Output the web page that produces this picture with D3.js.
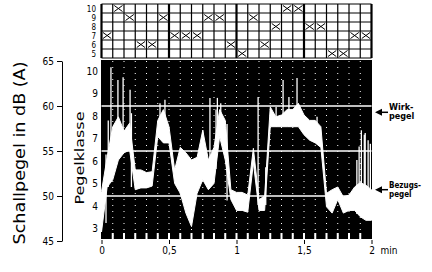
<!DOCTYPE html>
<html>
<head>
<meta charset="utf-8">
<script src="https://cdn.jsdelivr.net/npm/d3@7"></script>
<style>
body { margin: 0; background: #fff; }
svg { display: block; }
text { font-family: "DejaVu Sans Condensed", "DejaVu Sans", sans-serif; fill: #000; }
</style>
</head>
<body>
<div id="chart"></div>
<script>
var svgWidth = 432;
var svgHeight = 272;

// Zeit in Sekunden, Schallpegel in dB(A) (untere / obere Kante des Schriebs)
var times = [0, 2.5, 5, 7.5, 10, 12.5, 15, 17.5, 20, 22.5, 25, 27.5, 30, 32.5, 35, 37.5, 40, 42.5, 45, 47.5,
    50, 52.5, 55, 57.5, 60, 62.5, 65, 67.5, 70, 72.5, 75, 77.5, 80, 82.5, 85, 87.5, 90, 92.5, 95, 97.5,
    100, 102.5, 105, 107.5, 110, 112.5, 115, 117.5, 120];
var levelLow = [46.0, 51.0, 51.8, 54.0, 54.8, 55.1, 50.7, 50.9, 50.9, 51.1, 56.6, 55.9, 55.9, 51.4, 50.3, 48.1, 46.6, 50.3, 51.8, 50.7,
    51.4, 56.6, 54.0, 49.6, 48.4, 48.4, 48.2, 53.7, 48.4, 48.4, 57.7, 57.7, 57.7, 57.7, 57.7, 57.7, 56.8, 56.2, 55.9, 55.4,
    48.8, 48.1, 49.6, 48.1, 48.4, 48.4, 47.7, 47.3, 47.3];
var levelHigh = [50.5, 54.3, 57.7, 58.8, 57.2, 58.1, 52.9, 52.9, 52.6, 52.7, 58.4, 59.6, 57.7, 52.9, 55.4, 54.8, 54.0, 54.3, 57.3, 54.0,
    55.4, 59.6, 58.4, 50.7, 50.4, 50.4, 50.1, 55.3, 49.6, 50.0, 59.9, 58.8, 59.0, 59.6, 59.6, 60.3, 59.0, 58.4, 58.4, 57.7,
    50.3, 50.7, 51.0, 49.9, 50.1, 51.0, 51.5, 51.2, 50.7];

// einzelne Spitzen
var spikeTimes = [2, 3, 4.2, 7.3, 9.6, 12.7, 13.3, 26, 28.2, 45, 48.2, 50.9, 51.5, 53, 55.8, 69.6, 73, 77.6, 80.7, 83.3, 86.9,
    95.8, 113.5, 114.5, 115.5, 116.8, 117.2, 118.5, 119.5];
var spikeLow = [47, 51, 55, 56, 56, 56, 51, 57, 57, 52, 52, 53, 55, 57, 49.5, 49, 49, 57.7, 58, 57.7, 58,
    56, 48, 48, 48, 48, 48, 48, 48];
var spikeHigh = [54.6, 58.4, 64.3, 62.9, 63.2, 61.8, 59.2, 60.3, 60.7, 57.3, 60.9, 59.6, 60.9, 60.3, 58, 61, 53.2, 59.9, 62.9, 61, 63.1,
    58.8, 54, 55.5, 57.3, 56.8, 57, 56.2, 55.8];

// Pegelklasse je 5-s-Intervall
var classPerInterval = [7, 10, 9, 6, 6, 9, 7, 7, 7, 9, 9, 6, 5, 9, 6, 8, 10, 10, 8, 8, 5, 5, 7, 7];
var gridClasses = [10, 9, 8, 7, 6, 5];
var classTicks = [3, 4, 5, 6, 7, 8, 9, 10];
var dbTicks = [45, 50, 55, 60, 65];
var minuteTicks = [0, 0.5, 1, 1.5, 2];
var wirkpegel = 59.3;
var bezugspegel = 50.7;

var svg = d3.select("#chart")
    .append("svg")
    .attr("width", svgWidth)
    .attr("height", svgHeight);

var xScale = d3.scaleLinear().domain([0, 120]).range([101.5, 371.5]);
var xMinutes = d3.scaleLinear().domain([0, 2]).range([101.5, 371.5]);
var yScale = d3.scaleLinear().domain([45, 65]).range([241, 61]);
var yClass = d3.scaleLinear().domain([3, 10]).range([228, 71]);
var rowScale = d3.scaleBand().domain(gridClasses).range([4, 58]);

var intervals = d3.range(0, 125, 5);

// ---- Raster oben (Pegelklasse je Intervall)
var topGrid = svg.append("g");
topGrid.selectAll("line.row")
    .data(d3.range(gridClasses.length + 1))
    .enter()
    .append("line")
    .attr("x1", xScale(0))
    .attr("x2", xScale(120))
    .attr("y1", d => 4 + d * rowScale.bandwidth())
    .attr("y2", d => 4 + d * rowScale.bandwidth())
    .attr("stroke", "#000")
    .attr("stroke-width", 1);

topGrid.selectAll("line.col")
    .data(intervals)
    .enter()
    .append("line")
    .attr("x1", d => xScale(d))
    .attr("x2", d => xScale(d))
    .attr("y1", 4)
    .attr("y2", 58)
    .attr("stroke", "#000")
    .attr("stroke-width", d => (d % 30 == 0) ? 2.2 : 1.2);

var crosses = topGrid.selectAll("g.cross")
    .data(classPerInterval)
    .enter()
    .append("g");
crosses.append("line")
    .attr("x1", (d, i) => xScale(i * 5) + 1.5)
    .attr("x2", (d, i) => xScale(i * 5 + 5) - 1.5)
    .attr("y1", d => rowScale(d) + 1.5)
    .attr("y2", d => rowScale(d) + rowScale.bandwidth() - 1.5)
    .attr("stroke", "#000");
crosses.append("line")
    .attr("x1", (d, i) => xScale(i * 5) + 1.5)
    .attr("x2", (d, i) => xScale(i * 5 + 5) - 1.5)
    .attr("y1", d => rowScale(d) + rowScale.bandwidth() - 1.5)
    .attr("y2", d => rowScale(d) + 1.5)
    .attr("stroke", "#000");

topGrid.selectAll("text")
    .data(gridClasses)
    .enter()
    .append("text")
    .attr("x", 96)
    .attr("y", d => rowScale(d) + rowScale.bandwidth() / 2 + 3)
    .attr("text-anchor", "end")
    .style("font-size", "8px")
    .text(d => d);

// ---- schwarzes Schreibfeld
svg.append("rect")
    .attr("x", xScale(0) - 0.5)
    .attr("y", yScale(65) - 1)
    .attr("width", xScale(120) - xScale(0) + 1)
    .attr("height", yScale(45) - yScale(65) - 1)
    .attr("fill", "#000");

svg.selectAll("line.hgrid")
    .data([50, 55, 60])
    .enter()
    .append("line")
    .attr("x1", xScale(0))
    .attr("x2", xScale(120))
    .attr("y1", d => yScale(d))
    .attr("y2", d => yScale(d))
    .attr("stroke", "#fff")
    .attr("stroke-width", 1.5);

svg.selectAll("line.vgrid")
    .data(intervals.slice(1, -1))
    .enter()
    .append("line")
    .attr("x1", d => xScale(d))
    .attr("x2", d => xScale(d))
    .attr("y1", yScale(65))
    .attr("y2", yScale(45) - 2)
    .attr("stroke", "#fff")
    .attr("stroke-width", 1)
    .attr("stroke-dasharray", "1,5");

svg.selectAll("rect.gap")
    .data(intervals.slice(1, -1))
    .enter()
    .append("rect")
    .attr("x", d => xScale(d) - 1)
    .attr("y", yScale(45) - 8)
    .attr("width", 2)
    .attr("height", 6)
    .attr("fill", "#fff");

// ---- Pegelschrieb
var band = times.map((t, i) => ({t: t, lo: levelLow[i], hi: levelHigh[i]}));
var area = d3.area()
    .x(d => xScale(d.t))
    .y0(d => yScale(d.lo))
    .y1(d => yScale(d.hi));
svg.append("path")
    .datum(band)
    .attr("d", area)
    .attr("fill", "#fff")
    .attr("stroke", "#fff")
    .attr("stroke-width", 1);

svg.selectAll("line.spike")
    .data(spikeTimes)
    .enter()
    .append("line")
    .attr("x1", d => xScale(d))
    .attr("x2", d => xScale(d))
    .attr("y1", (d, i) => yScale(spikeLow[i]))
    .attr("y2", (d, i) => yScale(spikeHigh[i]))
    .attr("stroke", "#fff")
    .attr("stroke-width", 1.3);

// ---- Achsen
var leftAxis = svg.append("g")
    .attr("transform", "translate(62,0)")
    .call(d3.axisLeft(yScale).tickValues(dbTicks).tickSize(5).tickSizeOuter(0));
leftAxis.attr("font-family", null).attr("font-size", null);
leftAxis.selectAll("text").style("font-size", "10px");

var bottomAxis = svg.append("g")
    .attr("transform", `translate(0, ${yScale(45) - 1})`)
    .call(d3.axisBottom(xMinutes).tickValues(minuteTicks).tickSize(4)
        .tickFormat(d => String(d).replace(".", ",")));
bottomAxis.attr("font-family", null).attr("font-size", null);
bottomAxis.select(".domain").remove();
bottomAxis.selectAll("text").style("font-size", "10px");

svg.append("text")
    .attr("x", xMinutes(2) + 9)
    .attr("y", 254)
    .style("font-size", "10px")
    .text("min");

svg.selectAll("text.cls")
    .data(classTicks)
    .enter()
    .append("text")
    .attr("x", 98)
    .attr("y", d => yClass(d) + 4)
    .attr("text-anchor", "end")
    .style("font-size", "10px")
    .text(d => d);

svg.append("text")
    .attr("transform", "translate(25," + 153 + ") rotate(-90)")
    .attr("text-anchor", "middle")
    .attr("textLength", 183)
    .attr("lengthAdjust", "spacingAndGlyphs")
    .style("font-size", "15px")
    .text("Schallpegel in dB (A)");

svg.append("text")
    .attr("transform", "translate(84," + 158 + ") rotate(-90)")
    .attr("text-anchor", "middle")
    .attr("textLength", 93)
    .attr("lengthAdjust", "spacingAndGlyphs")
    .style("font-size", "12px")
    .text("Pegelklasse");

// ---- Wirkpegel / Bezugspegel
var notes = [
    {v: wirkpegel, lines: ["Wirk-", "pegel"], size: 9},
    {v: bezugspegel, lines: ["Bezugs-", "pegel"], size: 8}
];
var note = svg.selectAll("g.note")
    .data(notes)
    .enter()
    .append("g")
    .attr("transform", d => `translate(0, ${yScale(d.v)})`);
note.append("path")
    .attr("d", "M375,0 L382,-3.5 L382,3.5 Z")
    .attr("fill", "#000");
note.append("line")
    .attr("x1", 381).attr("x2", 388)
    .attr("y1", 0).attr("y2", 0)
    .attr("stroke", "#000")
    .attr("stroke-width", 1.5);
note.append("text")
    .attr("x", 389)
    .attr("y", -2)
    .style("font-size", d => d.size + "px")
    .style("font-weight", "bold")
    .text(d => d.lines[0]);
note.append("text")
    .attr("x", 389)
    .attr("y", 7)
    .style("font-size", d => d.size + "px")
    .style("font-weight", "bold")
    .text(d => d.lines[1]);
</script>
</body>
</html>
